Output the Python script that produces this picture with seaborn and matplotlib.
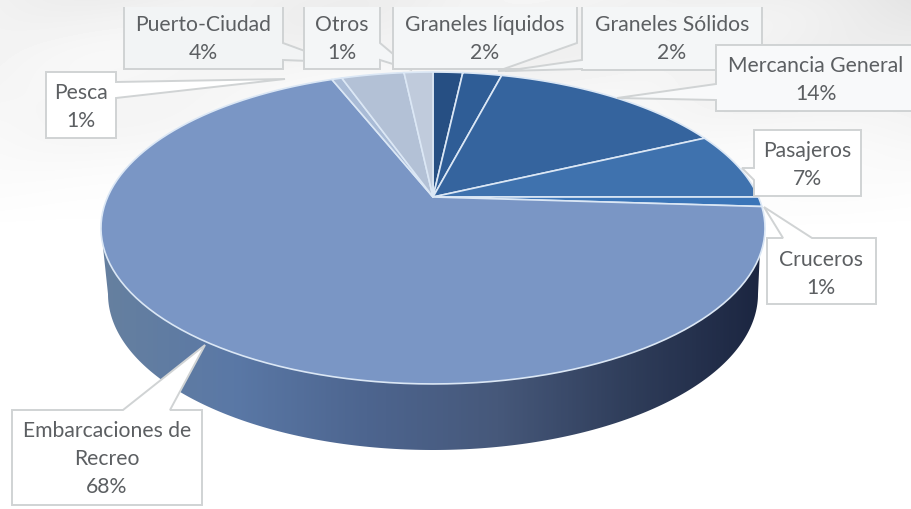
import numpy as np
import matplotlib
matplotlib.use('Agg')
import matplotlib.pyplot as plt
import seaborn as sns
from matplotlib.colors import LinearSegmentedColormap
from matplotlib.patches import Polygon, Rectangle

# values, the printed labels are rounded in the original
categories = ['Graneles líquidos', 'Graneles Sólidos', 'Mercancia General', 'Pasajeros', 'Cruceros',
              'Embarcaciones de\nRecreo', 'Pesca', 'Puerto-Ciudad', 'Otros']
values = [1.75, 2.3, 13.95, 7, 1, 68, 0.6, 3.7, 1.7]
pct_labels = ['2%', '2%', '14%', '7%', '1%', '68%', '1%', '4%', '1%']
slice_colors = ['#264f83', '#2f5d96', '#35649e', '#3f72ae', '#3b75b8',
                '#7a96c5', '#a9bbd6', '#b3c1d6', '#c0cbdc']
wall_colors = ['#66809f', '#5a78a6', '#4d658f', '#46587a', '#2f3d5a', '#1b2540']

# callout outlines in picture pixels
callouts = {
    'Pesca': [(46, 72), (116, 72), (116, 82), (285, 79), (116, 98), (116, 138), (46, 138)],
    'Puerto-Ciudad': [(124, -5), (283, -5), (283, 43), (335, 62), (283, 60), (283, 69), (124, 69)],
    'Otros': [(304, -5), (380, -5), (380, 43), (412, 70), (380, 60), (380, 69), (304, 69)],
    'Graneles líquidos': [(393, -5), (577, -5), (577, 43), (498, 71), (577, 68), (577, 69), (393, 69)],
    'Graneles Sólidos': [(582, -5), (762, -5), (762, 70), (582, 70), (582, 69), (505, 71), (582, 60)],
    'Mercancia General': [(716, 45), (912, 45), (912, 111), (716, 111), (716, 100), (617, 98), (716, 84)],
    'Pasajeros': [(754, 130), (861, 130), (861, 196), (754, 196), (754, 180), (742, 168), (754, 168)],
    'Cruceros': [(767, 238), (783, 238), (764, 207), (812, 238), (876, 238), (876, 304), (767, 304)],
    'Embarcaciones de\nRecreo': [(12, 410), (123, 410), (205, 345), (170, 410), (202, 410), (202, 505), (12, 505)],
}
label_pos = {
    'Pesca': (81, 107), 'Puerto-Ciudad': (203, 39), 'Otros': (342, 39),
    'Graneles líquidos': (485, 39), 'Graneles Sólidos': (672, 39),
    'Mercancia General': (816, 80), 'Pasajeros': (807, 165), 'Cruceros': (821, 274),
    'Embarcaciones de\nRecreo': (107, 459),
}
box_fill = {'Puerto-Ciudad': '#f2f4f5', 'Otros': '#f4f6f7', 'Graneles líquidos': '#f4f6f7',
            'Graneles Sólidos': '#f4f6f7', 'Mercancia General': '#f8f9fa'}

CX, CY = 433, 197
TILT, SY, SX = 0.1987, 149.8, 325.4
DEPTH = 66


def project(x, y):
    # perspective squash of the unit circle, the apex sits above the ellipse centre
    w = 1 + TILT * y
    return CX + SX * x / w, CY - SY * y / w


sns.set_theme(style='white')
plt.rcParams['font.family'] = ['Lato', 'DejaVu Sans']

fig, ax = plt.subplots(figsize=(9.12, 5.09), dpi=100)
fig.subplots_adjust(0, 0, 1, 1)

wedges, _ = ax.pie(values, startangle=90, counterclock=False, colors=sns.color_palette(slice_colors))
angles = [(w.theta1, w.theta2) for w in wedges]
for w in wedges:
    w.remove()

# background, pale grey at the top fading to white
yy, xx = np.mgrid[0:509, 0:912]
bg = 1 - 0.075 * np.clip(1 - yy / 230, 0, 1) ** 0.8 * (0.75 + 0.25 * np.sin(xx / 70) * np.cos(yy / 23 + xx / 140))
bg -= 0.04 * np.clip((xx - 650) / 260, 0, 1) * np.clip(1 - yy / 150, 0, 1)
ax.imshow(bg, cmap='gray', vmin=0, vmax=1, extent=(0, 912, 509, 0), aspect='auto', zorder=0)

# side wall of the pie
t = np.linspace(0, np.pi, 200)
rx, ry = 325, 156
low_x = CX + rx * np.cos(t)
low_y = CY + 31 + DEPTH + ry * np.sin(t)
wall_pts = [(761, 228)] + list(zip(low_x, low_y)) + [(101, 228)]
wall_clip = Polygon(wall_pts, closed=True, transform=ax.transData, facecolor='none', edgecolor='none')
ax.add_patch(wall_clip)
wall_cmap = LinearSegmentedColormap.from_list('wall', wall_colors)
im = ax.imshow(np.linspace(0, 1, 300).reshape(1, -1), cmap=wall_cmap, extent=(100, 765, 460, 220),
               aspect='auto', zorder=1)
im.set_clip_path(wall_clip)

# top face
for (a1, a2), color in zip(angles, slice_colors):
    tt = np.radians(np.linspace(a1, a2, 120))
    px, py = project(np.cos(tt), np.sin(tt))
    ax.fill(np.r_[CX, px], np.r_[CY, py], facecolor=color, edgecolor='#dbe7f5', linewidth=1.2,
            joinstyle='round', zorder=2)

# callout boxes and labels
clip = Rectangle((0, 7), 912, 502, transform=ax.transData)
for name, pct in zip(['Pesca', 'Puerto-Ciudad', 'Otros', 'Graneles líquidos', 'Graneles Sólidos',
                      'Mercancia General', 'Pasajeros', 'Cruceros', 'Embarcaciones de\nRecreo'],
                     [pct_labels[6], pct_labels[7], pct_labels[8], pct_labels[0], pct_labels[1],
                      pct_labels[2], pct_labels[3], pct_labels[4], pct_labels[5]]):
    box = Polygon(callouts[name], closed=True, facecolor=box_fill.get(name, '#ffffff'), edgecolor='#d0d3d4',
                  linewidth=1.4, zorder=3)
    ax.add_patch(box)
    box.set_clip_path(clip)
    lx, ly = label_pos[name]
    ax.text(lx, ly, name + '\n' + pct, ha='center', va='center', fontsize=15.2, color='#5c5f62',
            linespacing=1.47, zorder=4)

ax.set_aspect('auto')
ax.set_xlim(0, 912)
ax.set_ylim(509, 0)
ax.axis('off')
fig.savefig('out.png', dpi=100)
